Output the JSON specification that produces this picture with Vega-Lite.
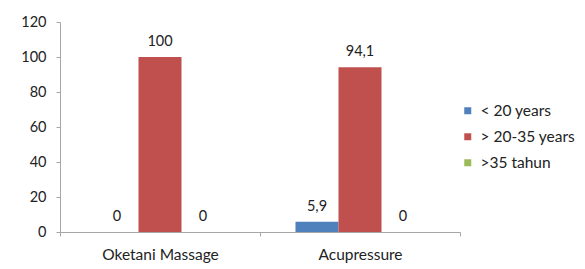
{
  "$schema": "https://vega.github.io/schema/vega-lite/v6.json",
  "autosize": "none",
  "width": 400,
  "height": 210,
  "padding": {"left": 60, "top": 22, "right": 125, "bottom": 37},
  "background": "white",
  "config": {
    "view": {"stroke": null},
    "font": "Lato",
    "axis": {"labelFont": "Lato", "labelColor": "#222", "labelFontSize": 14, "domainColor": "#a6a6a6", "tickColor": "#a6a6a6", "grid": false, "title": null}
  },
  "data": {
    "values": [
      {"method": "Oketani Massage", "age": "< 20 years", "value": 0, "label": "0"},
      {"method": "Oketani Massage", "age": "> 20-35 years", "value": 100, "label": "100"},
      {"method": "Oketani Massage", "age": ">35 tahun", "value": 0, "label": "0"},
      {"method": "Acupressure", "age": "< 20 years", "value": 5.9, "label": "5,9"},
      {"method": "Acupressure", "age": "> 20-35 years", "value": 94.1, "label": "94,1"},
      {"method": "Acupressure", "age": ">35 tahun", "value": 0, "label": "0"}
    ]
  },
  "encoding": {
    "x": {
      "field": "method", "type": "nominal", "sort": ["Oketani Massage", "Acupressure"],
      "scale": {"paddingInner": 0, "paddingOuter": 0},
      "axis": {"labelAngle": 0, "tickBand": "extent", "tickSize": 4, "labelPadding": 11, "labelFontSize": 15.5}
    },
    "xOffset": {
      "field": "age", "type": "nominal", "sort": ["< 20 years", "> 20-35 years", ">35 tahun"],
      "scale": {"paddingInner": 0, "paddingOuter": 0.825}
    },
    "y": {
      "field": "value", "type": "quantitative",
      "scale": {"domain": [0, 120], "nice": false},
      "axis": {"values": [0, 20, 40, 60, 80, 100, 120], "tickSize": 4, "labelPadding": 10, "labelFontSize": 14.5}
    }
  },
  "layer": [
    {
      "mark": {"type": "bar"},
      "encoding": {
        "color": {
          "field": "age", "type": "nominal", "sort": ["< 20 years", "> 20-35 years", ">35 tahun"],
          "scale": {"domain": ["< 20 years", "> 20-35 years", ">35 tahun"], "range": ["#4F81BD", "#C0504D", "#9BBB59"]},
          "legend": {
            "title": null, "orient": "none", "legendX": 400, "legendY": 81,
            "symbolType": "square", "symbolSize": 49, "symbolStrokeWidth": 0,
            "labelFont": "Lato", "labelFontSize": 15.5, "labelColor": "#222",
            "rowPadding": 9, "labelOffset": 5
          }
        }
      }
    },
    {
      "mark": {"type": "text", "baseline": "bottom", "dy": -8, "fontSize": 14.5, "font": "Lato", "color": "#222"},
      "encoding": {"text": {"field": "label"}}
    }
  ]
}
